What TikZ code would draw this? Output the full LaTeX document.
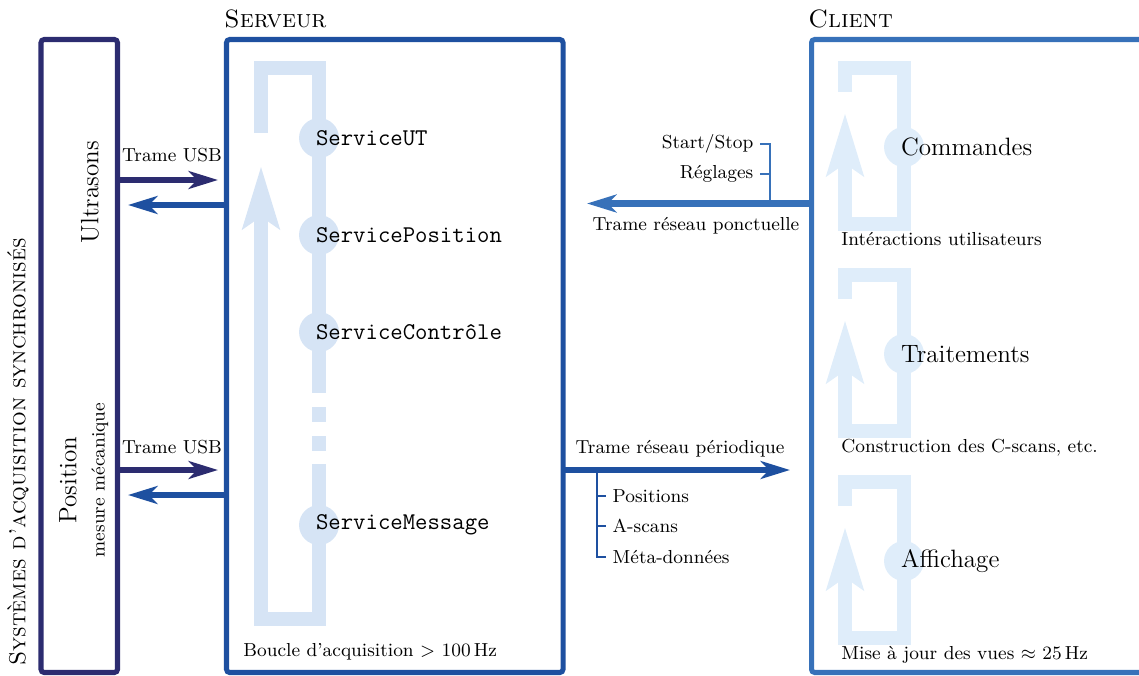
\documentclass[tikz,border=0pt]{standalone}
\usepackage{fontspec}
\usepackage{xcolor}
\usepackage{tikz}
\usetikzlibrary{arrows.meta}
\definecolor{acqnavy}{RGB}{44, 44, 112}
\definecolor{srvblue}{RGB}{30, 80, 160}
\definecolor{cliblue}{RGB}{55, 113, 185}
\definecolor{srvlight}{RGB}{214, 228, 245}
\definecolor{clilight}{RGB}{223, 237, 250}

\tikzset{
  box/.style={line width=2.4pt, rounded corners=1.5pt},
  flow/.style={line width=2.9pt, -{Stealth[length=14pt, width=8.5pt, inset=4pt]}},
  loopline/.style={line width=6.7pt},
  looparrow/.style={loopline, -{Stealth[length=29.6pt, width=17.2pt, inset=5.5pt]}},
  dot/.style={circle, inner sep=0pt, minimum size=19.1pt},
  svclbl/.style={anchor=west, inner sep=0pt, xshift=-1.6pt, font=\fontsize{11.5}{13}\selectfont\ttfamily},
  lbl/.style={anchor=base, inner sep=0pt, font=\small},
  brk/.style={line width=0.9pt},
  titre/.style={font=\large\scshape},
}

\begin{document}
\begin{tikzpicture}[x=0.0168cm, y=-0.0168cm]
    \path[use as bounding box, clip] (0,0) rectangle (1139,675);

    % Cadres
    \draw[box, acqnavy] (41,39.5) rectangle (117.5,672.5);
    \draw[box, srvblue] (226.5,39.5) rectangle (563,672.5);
    \draw[box, cliblue] (811.5,39.5) rectangle (1200,672.5);
    \node[titre, anchor=base west, inner sep=0pt] (titreSrv) at (224,28) {Serveur};
    \node[titre, anchor=base west, inner sep=0pt] (titreCli) at (808,28) {Client};
    \node[rotate=90, font=\fontsize{11.1}{13}\selectfont\scshape] (titreAcq) at (18,452) {Systèmes d'acquisition synchronisés};

    % Capteurs
    \node[rotate=90, font=\large] (ultrasons) at (90,192) {Ultrasons};
    \node[rotate=90, font=\large] (position) at (68,480) {Position};
    \node[rotate=90, font=\small] (mesure) at (100,480) {mesure mécanique};

    % Boucle du serveur
    \draw[loopline, srvlight] (261,133) |- (319,68) -- (319,393);
    \foreach \y in {407,436} \draw[loopline, srvlight] (319,\y) -- ++(0,15);
    \draw[looparrow, srvlight] (319,464) |- (261,619) -- (261,166);
    \foreach \y/\nom/\txt in {138/svcUT/ServiceUT, 235/svcPos/ServicePosition, 332/svcCtl/ServiceContrôle, 525/svcMsg/ServiceMessage} {
      \node[dot, fill=srvlight] (\nom) at (319,\y) {};
      \node[svclbl] (\nom-txt) at (\nom.center) {\txt};
    }
    \node[lbl, anchor=base west] (boucle) at (243,656) {Boucle d'acquisition $>$ 100\,Hz};

    % Boucles du client
    \foreach \dy/\nom/\txt/\legende in {0/cmd/Commandes/Intéractions utilisateurs, 207/trt/Traitements/{Construction des C-scans, etc.}, 414/aff/Affichage/{Mise à jour des vues $\approx$ 25\,Hz}} {
      \draw[looparrow, clilight] (845,92+\dy) |- (904,68+\dy) -- (904,224+\dy) -| (845,113+\dy);
      \node[dot, fill=clilight] (\nom) at (904,147+\dy) {};
      \node[anchor=west, inner sep=0pt, xshift=-1.6pt, font=\large] (\nom-txt) at (\nom.center) {\txt};
      \node[lbl, anchor=base west] (\nom-leg) at (841,245+\dy) {\legende};
    }

    % Liaisons USB
    \coordinate (usOut) at (117.5,180);
    \coordinate (usIn) at (218,180);
    \draw[flow, acqnavy] (usOut) -- (usIn);
    \node[lbl] (usbUS) at (172,162) {Trame USB};
    \coordinate (srvUS) at (226.5,205);
    \coordinate (usRet) at (128,205);
    \draw[flow, srvblue] (srvUS) -- (usRet);

    \coordinate (posOut) at (117.5,470);
    \coordinate (posIn) at (218,470);
    \draw[flow, acqnavy] (posOut) -- (posIn);
    \node[lbl] (usbPos) at (172,453) {Trame USB};
    \coordinate (srvPos) at (226.5,495);
    \coordinate (posRet) at (128,495);
    \draw[flow, srvblue] (srvPos) -- (posRet);

    % Trame reseau ponctuelle
    \coordinate (cliPonct) at (811.5,203.5);
    \coordinate (srvPonct) at (587,203.5);
    \draw[flow, cliblue] (cliPonct) -- (srvPonct);
    \node[lbl] (ponct) at (696,230) {Trame réseau ponctuelle};
    \draw[brk, cliblue] (760,144) -| (770,203.5);
    \draw[brk, cliblue] (760,174) -- (770,174);
    \node[anchor=east, font=\small, inner sep=3pt] (startstop) at (760,144) {Start/Stop};
    \node[anchor=east, font=\small, inner sep=3pt] (reglages) at (760,174) {Réglages};

    % Trame reseau periodique
    \coordinate (srvPer) at (563,470);
    \coordinate (cliPer) at (790,470);
    \draw[flow, srvblue] (srvPer) -- (cliPer);
    \node[lbl] (perio) at (680,453) {Trame réseau périodique};
    \draw[brk, srvblue] (597,470) |- (606,557);
    \foreach \y in {496,526} \draw[brk, srvblue] (597,\y) -- (606,\y);
    \node[anchor=west, font=\small, inner sep=3pt] (positions) at (606,496) {Positions};
    \node[anchor=west, font=\small, inner sep=3pt] (ascans) at (606,526) {A-scans};
    \node[anchor=west, font=\small, inner sep=3pt] (meta) at (606,557) {Méta-données};
\end{tikzpicture}
\end{document}
